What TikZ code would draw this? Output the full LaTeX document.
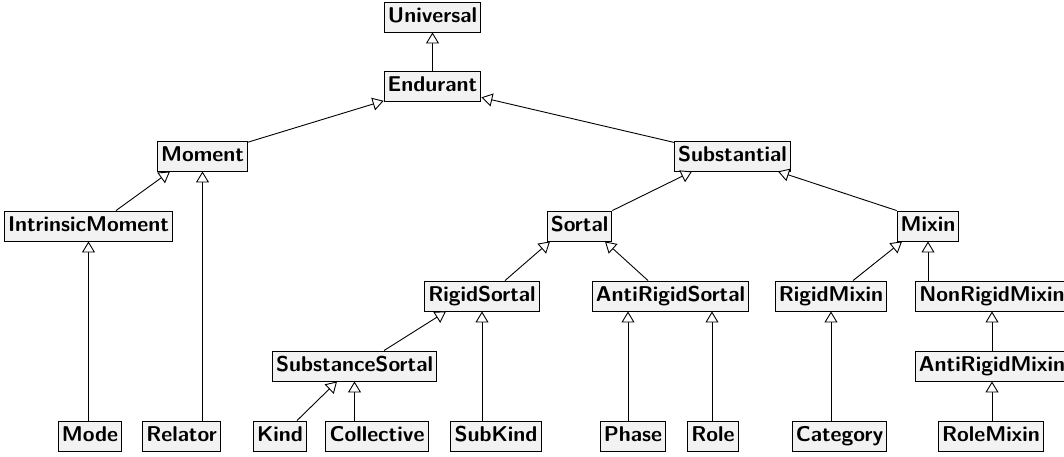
\documentclass[tikz,border=0pt]{standalone}
\usepackage{fontspec}
\usetikzlibrary{arrows.meta}
\definecolor{boxfill}{HTML}{F2F2F2}
\tikzset{
  cls/.style={draw=black, line width=0.9pt, fill=boxfill, inner xsep=3.6pt, inner ysep=0pt,
    minimum height=30pt, text height=15pt, text depth=4.5pt,
    font=\fontsize{21.4}{24}\selectfont\sffamily\bfseries},
  gen/.style={line width=0.9pt, -{Triangle[width=13pt,length=11pt,fill=white]}},
}
\begin{document}
\begin{tikzpicture}[x=1pt,y=-1pt]
\useasboundingbox (0,0) rectangle (1064,456);
% row 1-3
\node[cls] (Universal) at (432.5,17) {Universal};
\node[cls] (Endurant) at (432.5,86) {Endurant};
\node[cls] (Moment) at (202.5,156) {Moment};
\node[cls] (Substantial) at (732.5,156) {Substantial};
% row 4
\node[cls] (IntrinsicMoment) at (88.5,226) {IntrinsicMoment};
\node[cls] (Sortal) at (579.5,226) {Sortal};
\node[cls] (Mixin) at (928,226) {Mixin};
% row 5
\node[cls] (RigidSortal) at (482,296) {RigidSortal};
\node[cls] (AntiRigidSortal) at (670.5,296) {AntiRigidSortal};
\node[cls] (RigidMixin) at (831,296) {RigidMixin};
\node[cls] (NonRigidMixin) at (992,296) {NonRigidMixin};
% row 6
\node[cls] (SubstanceSortal) at (354.5,366) {SubstanceSortal};
\node[cls] (AntiRigidMixin) at (992,366) {AntiRigidMixin};
% row 7
\node[cls] (Mode) at (90,436) {Mode};
\node[cls] (Relator) at (181.5,436) {Relator};
\node[cls] (Kind) at (280,436) {Kind};
\node[cls] (Collective) at (377,436) {Collective};
\node[cls] (SubKind) at (496,436) {SubKind};
\node[cls] (Phase) at (633,436) {Phase};
\node[cls] (Role) at (713,436) {Role};
\node[cls] (Category) at (839.5,436) {Category};
\node[cls] (RoleMixin) at (991,436) {RoleMixin};
% generalizations
\draw[gen] (Endurant) -- (Universal);
\draw[gen] (Moment) -- (Endurant);
\draw[gen] (Substantial) -- (Endurant);
\draw[gen] ([xshift=27.5pt]IntrinsicMoment.north) -- ([xshift=-32.5pt]Moment.south);
\draw[gen] (Relator.north -| Moment.south) -- (Moment.south);
\draw[gen] (Mode.north -| IntrinsicMoment.south) -- (IntrinsicMoment.south);
\draw[gen] (Sortal.north east) -- ([xshift=-40.5pt]Substantial.south);
\draw[gen] (Mixin.north west) -- ([xshift=45.5pt]Substantial.south);
\draw[gen] ([xshift=23pt]RigidSortal.north) -- ([xshift=-29.5pt]Sortal.south);
\draw[gen] ([xshift=-22.5pt]AntiRigidSortal.north) -- ([xshift=25.5pt]Sortal.south);
\draw[gen] ([xshift=22pt]RigidMixin.north) -- ([xshift=-26pt]Mixin.south);
\draw[gen] (NonRigidMixin.north -| Mixin.south) -- (Mixin.south);
\draw[gen] (AntiRigidMixin) -- (NonRigidMixin);
\draw[gen] (RoleMixin.north -| AntiRigidMixin.south) -- (AntiRigidMixin.south);
\draw[gen] ([xshift=29.5pt]SubstanceSortal.north) -- ([xshift=-36pt]RigidSortal.south);
\draw[gen] (SubKind.north -| RigidSortal.south) -- (RigidSortal.south);
\draw[gen] ([xshift=17pt]Kind.north) -- ([xshift=-17.5pt]SubstanceSortal.south);
\draw[gen] (Collective.north -| SubstanceSortal.south) -- (SubstanceSortal.south);
\coordinate (phaseTip) at ([xshift=-42.5pt]AntiRigidSortal.south);
\coordinate (roleTip) at ([xshift=41.5pt]AntiRigidSortal.south);
\draw[gen] (Phase.north -| phaseTip) -- (phaseTip);
\draw[gen] (Role.north -| roleTip) -- (roleTip);
\draw[gen] (Category.north -| RigidMixin.south) -- (RigidMixin.south);
\end{tikzpicture}
\end{document}
